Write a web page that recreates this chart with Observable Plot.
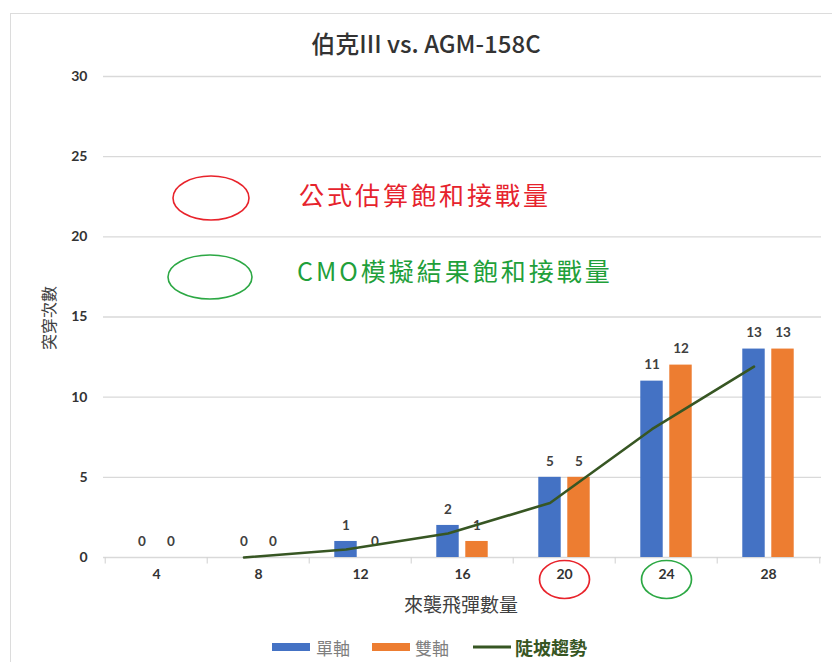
<!DOCTYPE html>
<html>
<head>
<meta charset="utf-8">
<script src="https://cdn.jsdelivr.net/npm/d3@7"></script>
<script src="https://cdn.jsdelivr.net/npm/@observablehq/plot@0.6"></script>
<style>
  body { margin: 0; background: #fff; }
  #wrap { position: relative; width: 832px; height: 662px; overflow: hidden; background: #fff;
          font-family: Lato, "Noto Sans CJK TC", sans-serif; }
  #frame { position: absolute; left: 10px; top: 13px; width: 900px; height: 800px; border: 1px solid #dcdcdc; }
  #chart { position: absolute; left: 0; top: 0; }
  #title { position: absolute; left: 0; width: 852px; top: 42px; transform: translateY(-50%); text-align: center;
           font-family: "Noto Sans CJK TC", sans-serif; font-size: 24px; font-weight: 500; color: #333; white-space: nowrap; }
  #ylab { position: absolute; left: 48px; top: 318px; transform: translate(-50%, -50%) rotate(-90deg);
          font-family: "Noto Sans CJK TC", sans-serif; font-size: 16px; color: #404040; white-space: nowrap; }
  #xlab { position: absolute; left: 461px; top: 603px; transform: translate(-50%, -50%);
          font-family: "Noto Sans CJK TC", sans-serif; font-size: 19px; color: #404040; white-space: nowrap; }
  .ann { position: absolute; white-space: nowrap; font-family: "Noto Sans CJK TC", sans-serif;
         font-size: 25px; letter-spacing: 3px; transform: translateY(-50%); }
  #legend { position: absolute; top: 647px; left: 0; width: 832px; }
  .lg { position: absolute; transform: translateY(-50%); white-space: nowrap;
        font-family: "Noto Sans CJK TC", sans-serif; }
</style>
</head>
<body>
<div id="wrap">
  <div id="frame"></div>
  <div id="chart"></div>
  <div id="title"></div>
  <div id="ylab"></div>
  <div id="xlab"></div>
  <svg id="annsvg" width="832" height="662" style="position:absolute;left:0;top:0;pointer-events:none">
    <ellipse cx="211" cy="198" rx="38" ry="22" fill="none" stroke="#E8232B" stroke-width="1.6"></ellipse>
    <ellipse cx="210" cy="277" rx="42" ry="22" fill="none" stroke="#2CA844" stroke-width="1.6"></ellipse>
  </svg>
  <div class="ann" id="ann1" style="left:299px;top:194px;color:#E6232D;"></div>
  <div class="ann" id="ann2" style="left:297px;top:270px;color:#1FA03A;"></div>
  <div id="legend"></div>
</div>
<script>
// ---- data ----
const categories = ["4", "8", "12", "16", "20", "24", "28"];
const singleAxis = [0, 0, 1, 2, 5, 11, 13];      // 單軸
const doubleAxis = [0, 0, 0, 1, 5, 12, 13];      // 雙軸
const trendCategories = ["8", "12", "16", "20", "24", "28"];
const trendValues = [0, 0.5, 1.5, 3.4, 8, 11.9]; // 陡坡趨勢
const yTicks = [0, 5, 10, 15, 20, 25, 30];
const highlighted = [{cat: "20", color: "#E8232B"}, {cat: "24", color: "#2CA844"}];

const titleText = "伯克III vs. AGM-158C";
const yTitle = "突穿次數";
const xTitle = "來襲飛彈數量";
const seriesNames = ["單軸", "雙軸", "陡坡趨勢"];
const annotationTexts = ["公式估算飽和接戰量", "CMO模擬結果飽和接戰量"];

const colors = {single: "#4472C4", double: "#ED7D31", trend: "#375623"};

// ---- tables built from arrays ----
const rows = categories.map((c, i) => ({cat: c, single: singleAxis[i], double: doubleAxis[i]}));
const trend = trendCategories.map((c, i) => ({cat: c, v: trendValues[i]}));

// ---- custom symbols ----
function ellipseSymbol(aspect) {
  return {
    draw(ctx, size) {
      const rx = Math.sqrt(size / Math.PI), ry = rx * aspect, k = 0.5523;
      ctx.moveTo(rx, 0);
      ctx.bezierCurveTo(rx, k * ry, k * rx, ry, 0, ry);
      ctx.bezierCurveTo(-k * rx, ry, -rx, k * ry, -rx, 0);
      ctx.bezierCurveTo(-rx, -k * ry, -k * rx, -ry, 0, -ry);
      ctx.bezierCurveTo(k * rx, -ry, rx, -k * ry, rx, 0);
      ctx.closePath();
    }
  };
}
const tickSymbol = {draw(ctx) { ctx.moveTo(0, 0); ctx.lineTo(0, 6); }};

const W = 832, H = 620, mL = 103, mR = 11, mT = 76, mB = 63;
const band = (W - mL - mR) / categories.length;
const barW = 23, off = 14.5;
const baseInset = (band - barW) / 2;

const chart = Plot.plot({
  width: W,
  height: H,
  marginLeft: mL,
  marginRight: mR,
  marginTop: mT,
  marginBottom: mB,
  style: {fontFamily: "Lato, 'Noto Sans CJK TC', sans-serif", fontSize: "14px", fontWeight: "bold",
          color: "#333", background: "transparent", overflow: "visible"},
  x: {domain: categories, padding: 0, tickSize: 0, tickPadding: 12, label: null},
  y: {domain: [0, 30], ticks: yTicks.length - 1, tickSize: 0, tickPadding: 16, label: null},
  marks: [
    Plot.ruleY(yTicks, {y: d => d, stroke: "#d9d9d9", strokeWidth: 1.4}),
    Plot.dot(categories, {x: d => d, frameAnchor: "bottom", dx: -band / 2, symbol: tickSymbol, r: 3,
      stroke: "#d0d0d0", fill: "none", strokeWidth: 1}),
    Plot.dot(categories.slice(-1), {x: d => d, frameAnchor: "bottom", dx: band / 2, symbol: tickSymbol, r: 3,
      stroke: "#d0d0d0", fill: "none", strokeWidth: 1}),
    Plot.barY(rows, {x: "cat", y: "single", fill: colors.single,
      insetLeft: baseInset - off, insetRight: baseInset + off}),
    Plot.barY(rows, {x: "cat", y: "double", fill: colors.double,
      insetLeft: baseInset + off, insetRight: baseInset - off}),
    Plot.text(rows, {x: "cat", y: "single", text: d => String(d.single), dx: -off, dy: -16,
      fill: "#404040", fontWeight: "bold", fontSize: 13.5}),
    Plot.text(rows, {x: "cat", y: "double", text: d => String(d.double), dx: off, dy: -16,
      fill: "#404040", fontWeight: "bold", fontSize: 13.5}),
    Plot.line(trend, {x: "cat", y: "v", dx: -off, stroke: colors.trend, strokeWidth: 2.6}),
    Plot.dot(highlighted.slice(0, 1), {x: "cat", frameAnchor: "bottom", dy: 22, r: 25,
      symbol: ellipseSymbol(0.76), stroke: highlighted[0].color, fill: "none", strokeWidth: 1.7}),
    Plot.dot(highlighted.slice(1, 2), {x: "cat", frameAnchor: "bottom", dy: 22, r: 25,
      symbol: ellipseSymbol(0.76), stroke: highlighted[1].color, fill: "none", strokeWidth: 1.7})
  ]
});
document.getElementById("chart").appendChild(chart);

document.getElementById("title").textContent = titleText;
document.getElementById("ylab").textContent = yTitle;
document.getElementById("xlab").textContent = xTitle;
document.getElementById("ann1").textContent = annotationTexts[0];
document.getElementById("ann2").textContent = annotationTexts[1];

// legend
const lg = document.getElementById("legend");
lg.innerHTML = `
  <div class="lg" style="left:272px;width:38px;height:8px;background:${colors.single};"></div>
  <div class="lg" style="left:316px;font-size:17px;color:#7f7f7f;">${seriesNames[0]}</div>
  <div class="lg" style="left:372px;width:38px;height:8px;background:${colors.double};"></div>
  <div class="lg" style="left:415px;font-size:17px;color:#7f7f7f;">${seriesNames[1]}</div>
  <div class="lg" style="left:473px;width:38px;height:3px;background:${colors.trend};"></div>
  <div class="lg" style="left:515px;font-size:18px;font-weight:bold;color:${colors.trend};">${seriesNames[2]}</div>
`;
</script>
</body>
</html>
